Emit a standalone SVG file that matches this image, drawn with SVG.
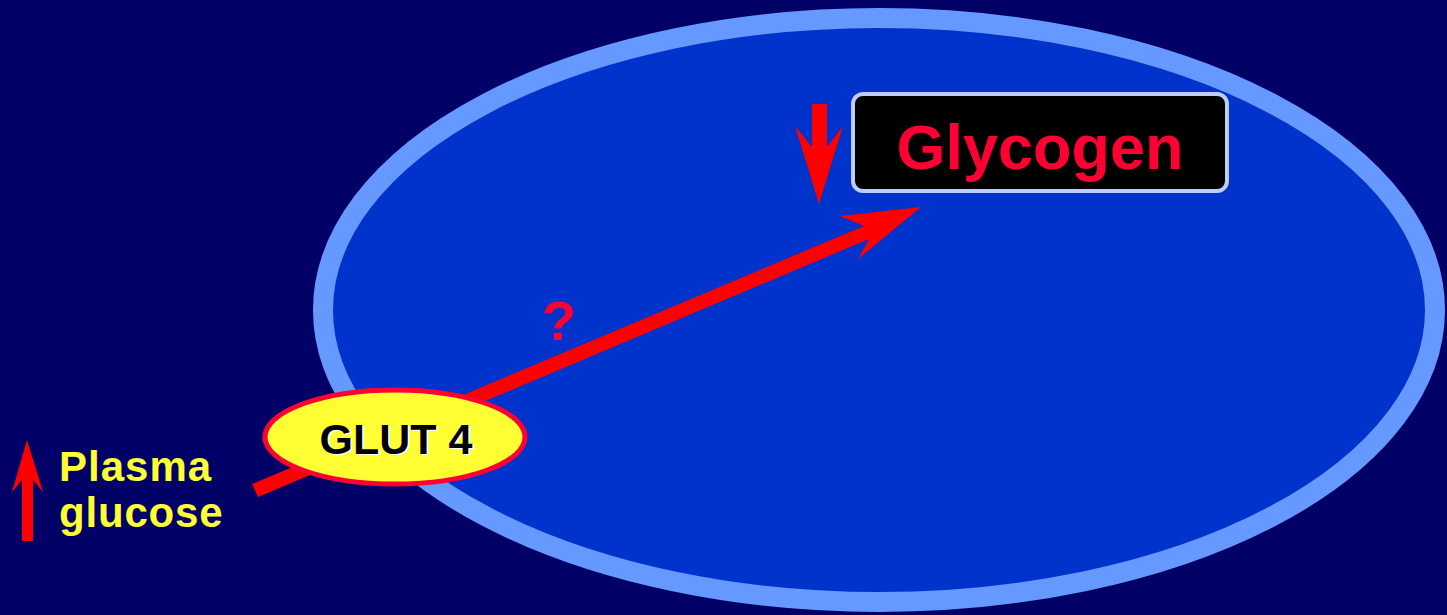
<svg xmlns="http://www.w3.org/2000/svg" width="1447" height="615" viewBox="0 0 1447 615">
<style>
.b{font-family:"Liberation Sans",Arial,sans-serif;font-weight:bold}
.red{fill:#ff0000}
</style>
<rect width="1447" height="615" fill="#000066"/>
<g id="cell">
<ellipse cx="879" cy="310" rx="556" ry="292" fill="#0033cc" stroke="#6699ff" stroke-width="20"/>
</g>
<g id="connectors">
<path class="red" d="M252,484 L864,226 L840,216 L921,207 L858,259 L869,239 L258,497 Z"/>
<path class="red" d="M812,104 L827,104 L827,147 L843,126 L819,204 L795,126 L812,147 Z"/>
<path class="red" d="M22,541 L33,541 L33,480 L43,492 L27,440 L12,492 L22,480 Z"/>
</g>
<g id="question">
<text class="b" x="559" y="340" font-size="56" fill="#ff0033" text-anchor="middle">?</text>
</g>
<g id="glycogen">
<rect x="853" y="94" width="374" height="97" rx="10" fill="#000000" stroke="#c0ccff" stroke-width="4"/>
<text class="b" x="1040" y="169" font-size="63" fill="#ff0033" text-anchor="middle">Glycogen</text>
</g>
<g id="glut4">
<ellipse cx="395" cy="437" rx="130" ry="47" fill="#ffff33" stroke="#ff0033" stroke-width="5"/>
<text class="b" x="398" y="455" font-size="43" fill="#ffffff" text-anchor="middle">GLUT 4</text>
<text class="b" x="396" y="454" font-size="43" fill="#000000" text-anchor="middle">GLUT 4</text>
</g>
<g id="plasma">
<text class="b" x="59" y="481" font-size="42" fill="#ffff33" letter-spacing="1">Plasma</text>
<text class="b" x="59" y="527" font-size="42" fill="#ffff33" letter-spacing="0.8">glucose</text>
</g>
</svg>
